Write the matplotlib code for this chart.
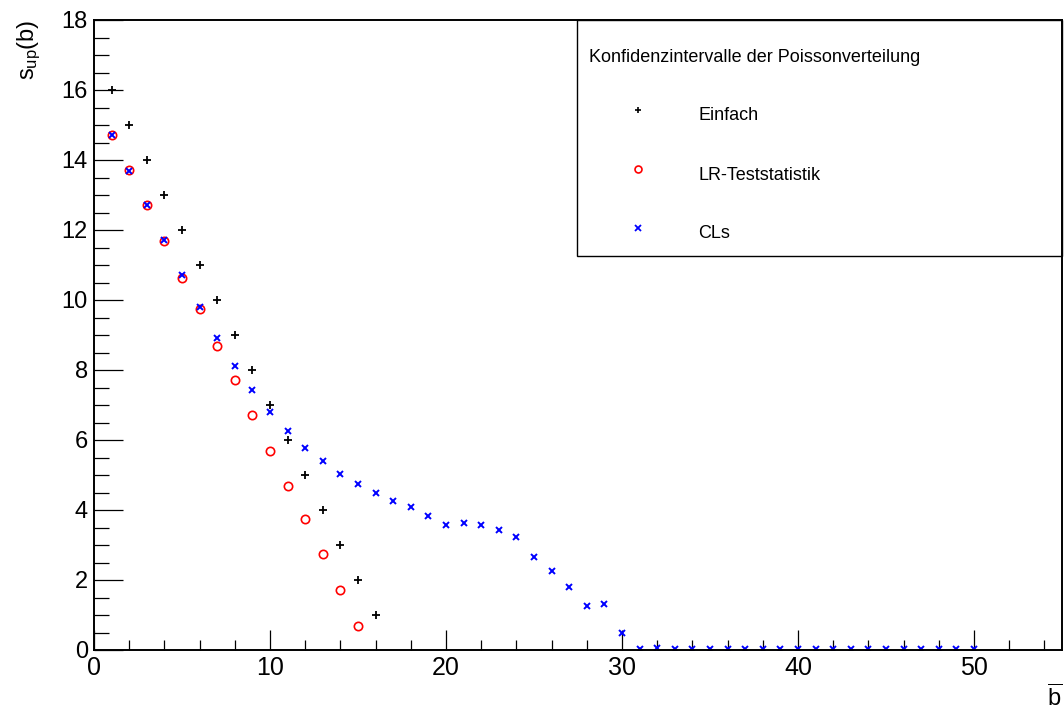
import matplotlib
matplotlib.use("Agg")
import matplotlib.pyplot as plt
from matplotlib.lines import Line2D
from matplotlib.patches import Rectangle
from matplotlib.ticker import MultipleLocator

plt.rcParams['font.family'] = ['Liberation Sans', 'DejaVu Sans']
plt.rcParams['mathtext.fontset'] = 'custom'
plt.rcParams['mathtext.rm'] = 'Liberation Sans'
plt.rcParams['mathtext.it'] = 'Liberation Sans'

# data
b_einfach = [1, 2, 3, 4, 5, 6, 7, 8, 9, 10, 11, 12, 13, 14, 15, 16]
s_einfach = [16, 15, 14, 13, 12, 11, 10, 9, 8, 7, 6, 5, 4, 3, 2, 1]

b_lr = [1, 2, 3, 4, 5, 6, 7, 8, 9, 10, 11, 12, 13, 14, 15]
s_lr = [14.71, 13.71, 12.71, 11.69, 10.63, 9.73, 8.68, 7.71, 6.71, 5.70,
        4.69, 3.73, 2.75, 1.71, 0.69]

b_cls = list(range(1, 51))
s_cls = [14.71, 13.70, 12.71, 11.71, 10.71, 9.81, 8.92, 8.11, 7.44, 6.79,
         6.26, 5.78, 5.39, 5.03, 4.73, 4.48, 4.26, 4.10, 3.82, 3.57,
         3.62, 3.56, 3.42, 3.22, 2.65, 2.26, 1.81, 1.25, 1.31, 0.50,
         0.03, 0.05, 0.03, 0.03, 0.03, 0.03, 0.03, 0.03, 0.03, 0.03,
         0.03, 0.03, 0.03, 0.03, 0.03, 0.03, 0.03, 0.03, 0.03, 0.03]

W, H = 1064, 709
fig = plt.figure(figsize=(W / 100, H / 100), dpi=100)
ax = fig.add_axes([94 / W, (H - 650) / H, (1062 - 94) / W, (650 - 20) / H])

ax.plot(b_einfach, s_einfach, ls='none', marker='+', ms=5.5, mew=1.3, color='black')
ax.plot(b_lr, s_lr, ls='none', marker='o', ms=6, mew=1.2, mfc='none', mec='red')
ax.plot(b_cls, s_cls, ls='none', marker='x', ms=4.5, mew=1.4, color='blue')

ax.set_xlim(0, 55)
ax.set_ylim(0, 18)
ax.xaxis.set_major_locator(MultipleLocator(10))
ax.xaxis.set_minor_locator(MultipleLocator(2))
ax.yaxis.set_major_locator(MultipleLocator(2))
ax.yaxis.set_minor_locator(MultipleLocator(0.5))
ax.tick_params(axis='both', which='both', direction='in', top=False, right=False,
               width=0.9, labelsize=17)
ax.tick_params(axis='x', labelsize=18)
ax.tick_params(axis='y', which='major', length=21, pad=4.5)
ax.tick_params(axis='y', which='minor', length=10.8)
ax.tick_params(axis='x', which='major', length=14.4, pad=4)
ax.tick_params(axis='x', which='minor', length=7.2)
for sp in ax.spines.values():
    sp.set_linewidth(1.4)

fig.text(1062 / W, 1 - 706 / H, r'$\overline{b}$', fontsize=17, ha='right', va='baseline')
fig.text(29 / W, 1 - 20 / H, r'$s_{up}(b)$', fontsize=17, rotation=90, ha='center', va='top')

# legend box
fig.patches.append(Rectangle((577 / W, 1 - 256 / H), (1062 - 577) / W, (256 - 20) / H,
                             transform=fig.transFigure, fill=False, lw=1.0, ec='black'))
fig.text(589 / W, 1 - 57 / H, 'Konfidenzintervalle der Poissonverteilung',
         fontsize=13, ha='left', va='center')
entries = [('Einfach', dict(marker='+', ms=5, mew=1.2, color='black'), 116),
           ('LR-Teststatistik', dict(marker='o', ms=5, mew=1.2, mfc='none', mec='red'), 175),
           ('CLs', dict(marker='x', ms=4, mew=1.3, color='blue'), 234)]
for label, style, yp in entries:
    fig.lines.append(Line2D([638 / W], [1 - (yp - 6) / H], transform=fig.transFigure,
                            ls='none', **style))
    fig.text(698 / W, 1 - yp / H, label, fontsize=13, ha='left', va='center')

fig.savefig('out.png', dpi=100)
